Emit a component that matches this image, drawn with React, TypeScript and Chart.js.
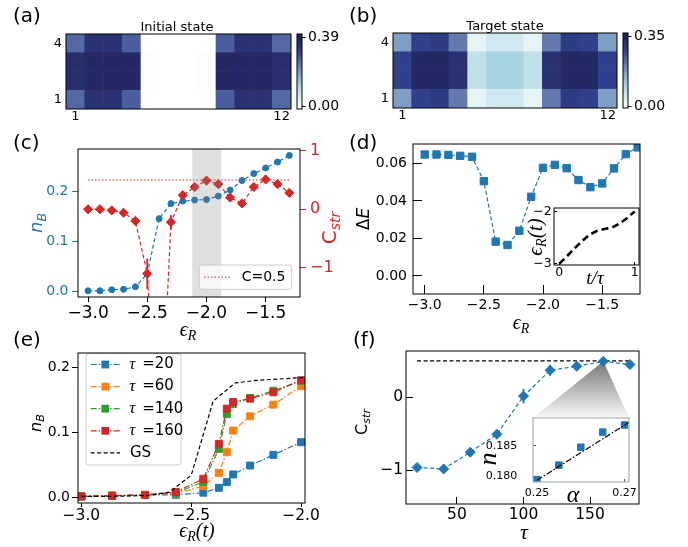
import React, { useEffect, useRef } from 'react';
import { Chart, registerables } from 'chart.js';

Chart.register(...registerables);

const W = 688;
const H = 547;
const SANS = "'DejaVu Sans', sans-serif";
const SERIF = "'Liberation Serif', 'DejaVu Serif', serif";
const BLUE = '#1f77b4';
const RED = '#d62728';
const ORANGE = '#ff7f0e';
const GREEN = '#2ca02c';

// ---------- (a), (b) heat maps: sites 1..12, rows 1..4 ----------
const sites = ['1', '2', '3', '4', '5', '6', '7', '8', '9', '10', '11', '12'];
const rowTicks = [0.5, 3.5];
const rowTickLabels = ['1', '4'];
const initialRow1 = [0.258, 0.351, 0.351, 0.273, 0.0, 0.0, 0.0, 0.0, 0.273, 0.351, 0.351, 0.258];
const initialRow2 = [0.363, 0.378, 0.378, 0.378, 0.004, 0.0, 0.0, 0.004, 0.378, 0.378, 0.378, 0.363];
const initialRow3 = [0.363, 0.378, 0.378, 0.378, 0.004, 0.0, 0.0, 0.004, 0.378, 0.378, 0.378, 0.363];
const initialRow4 = [0.258, 0.351, 0.351, 0.273, 0.0, 0.0, 0.0, 0.0, 0.273, 0.351, 0.351, 0.258];
const targetRow1 = [0.168, 0.28, 0.29, 0.21, 0.03, 0.057, 0.057, 0.03, 0.21, 0.29, 0.28, 0.168];
const targetRow2 = [0.28, 0.34, 0.34, 0.315, 0.076, 0.105, 0.105, 0.076, 0.315, 0.34, 0.34, 0.28];
const targetRow3 = [0.28, 0.34, 0.34, 0.315, 0.076, 0.105, 0.105, 0.076, 0.315, 0.34, 0.34, 0.28];
const targetRow4 = [0.168, 0.28, 0.29, 0.21, 0.03, 0.057, 0.057, 0.03, 0.21, 0.29, 0.28, 0.168];
const initialMax = 0.39;
const targetMax = 0.35;
const initialBarRange = [-0.015, 0.409];
const targetBarRange = [-0.008, 0.367];
const cmapStops: [number, number[]][] = [
  [0.0, [255, 255, 255]],
  [0.3, [168, 212, 226]],
  [0.6, [100, 122, 175]],
  [0.8, [48, 64, 140]],
  [1.0, [36, 36, 92]],
];

// ---------- (c) ----------
const epsC = [-3.0, -2.9, -2.8, -2.7, -2.6, -2.5, -2.4, -2.3, -2.2, -2.1, -2.0, -1.9, -1.8, -1.7, -1.6, -1.5, -1.4, -1.3];
const nBC = [0.001, 0.001, 0.003, 0.004, 0.009, 0.035, 0.145, 0.175, 0.18, 0.182, 0.183, 0.19, 0.202, 0.221, 0.235, 0.246, 0.258, 0.271];
const cStrC = [0.0, 0.0, -0.02, -0.06, -0.2, -1.1, -4.5, -0.22, 0.24, 0.38, 0.49, 0.43, 0.2, 0.1, 0.38, 0.51, 0.43, 0.28];
const cStrErrC = [0, 0, 0, 0, 0, 0.26, 0, 0.12, 0, 0, 0, 0, 0, 0, 0, 0, 0, 0];
const refC = 0.5;
const refLabelC = 'C=0.5';
const bandC = [-2.12, -1.875];

// ---------- (d) ----------
const epsD = [-3.0, -2.9, -2.8, -2.7, -2.6, -2.5, -2.4, -2.3, -2.2, -2.1, -2.0, -1.9, -1.8, -1.7, -1.6, -1.5, -1.4, -1.3, -1.2];
const dE = [0.0647, 0.0647, 0.0645, 0.064, 0.0635, 0.0505, 0.0183, 0.0165, 0.0241, 0.0422, 0.0576, 0.0592, 0.0574, 0.0511, 0.0473, 0.0493, 0.0573, 0.0649, 0.0685];
const tInset = [0, 0.1, 0.2, 0.3, 0.4, 0.5, 0.6, 0.7, 0.8, 0.9, 1.0];
const epsInset = [-3.0, -2.86, -2.71, -2.57, -2.445, -2.374, -2.338, -2.309, -2.232, -2.126, -2.0];

// ---------- (e) ----------
const epsE = [-3.0, -2.86, -2.71, -2.57, -2.445, -2.374, -2.338, -2.309, -2.232, -2.126, -2.0];
const tauLabels = ['20', '60', '140', '160'];
const nTau20 = [0.0015, 0.0026, 0.0036, 0.004, 0.0072, 0.0148, 0.0235, 0.0353, 0.049, 0.0654, 0.0849];
const nTau60 = [0.0015, 0.0026, 0.0036, 0.006, 0.0174, 0.0378, 0.0695, 0.1028, 0.1247, 0.1426, 0.1708];
const nTau140 = [0.0015, 0.0026, 0.0038, 0.007, 0.024, 0.0746, 0.128, 0.1437, 0.153, 0.164, 0.1794];
const nTau160 = [0.0015, 0.0026, 0.004, 0.0082, 0.0286, 0.0823, 0.1365, 0.1467, 0.1518, 0.1616, 0.18];
const epsGS = [-3.0, -2.9, -2.8, -2.7, -2.6, -2.5, -2.4, -2.3, -2.2, -2.1, -2.0, -1.9];
const nGS = [0.0015, 0.0015, 0.002, 0.003, 0.008, 0.034, 0.148, 0.176, 0.18, 0.182, 0.184, 0.19];
const gsLabel = 'GS';

// ---------- (f) ----------
const tauF = [20, 40, 60, 80, 100, 120, 140, 160, 180];
const cStrF = [-0.96, -0.98, -0.75, -0.505, 0.018, 0.372, 0.427, 0.495, 0.45];
const cStrErrF = [0.02, 0.06, 0.03, 0.03, 0.1, 0.075, 0.03, 0.02, 0.02];
const refF = 0.5;
const zoomIndexF = 7;
const alphaInset = [0.25, 0.255, 0.26, 0.265, 0.27];
const nInset = [0.17945, 0.18183, 0.18478, 0.18728, 0.18845];
const alphaFit = [0.25, 0.271];
const nFit = [0.17933, 0.18888];

// ---------- layout boxes (page pixels) ----------
type Box = { l: number; t: number; r: number; b: number };
const BOX_A: Box = { l: 66, t: 34, r: 291, b: 109 };
const CBAR_A: Box = { l: 297, t: 34, r: 302, b: 109 };
const BOX_B: Box = { l: 393, t: 33, r: 617, b: 108 };
const CBAR_B: Box = { l: 623, t: 33, r: 628, b: 108 };
const BOX_C: Box = { l: 78, t: 149, r: 300, b: 297 };
const BOX_D: Box = { l: 413, t: 144, r: 640, b: 294 };
const INSET_D: Box = { l: 554, t: 208, r: 639, b: 265 };
const BOX_E: Box = { l: 78, t: 353, r: 305, b: 503 };
const BOX_F: Box = { l: 406, t: 351, r: 639, b: 504 };
const INSET_F: Box = { l: 533, t: 418, r: 629, b: 482 };

const AXW = 60;
const AXH = 40;
const DASH = [4, 2.5];
const DASHDOT = [6, 2, 1.5, 2];
const DOT = [1.5, 2];

const minus = (s: string) => s.replace('-', '\u2212');
const fmt = (d: number) => (v: number) => minus(Number(v).toFixed(d));
const pts = (xs: number[], ys: number[]) => xs.map((x, i) => ({ x, y: ys[i] }));

function cmap(t: number): string {
  const u = Math.max(0, Math.min(1, t));
  for (let i = 1; i < cmapStops.length; i++) {
    const [t1, c1] = cmapStops[i];
    const [t0, c0] = cmapStops[i - 1];
    if (u <= t1) {
      const f = (u - t0) / (t1 - t0);
      const c = c0.map((v, k) => Math.round(v + (c1[k] - v) * f));
      return `rgb(${c[0]},${c[1]},${c[2]})`;
    }
  }
  const c = cmapStops[cmapStops.length - 1][1];
  return `rgb(${c[0]},${c[1]},${c[2]})`;
}

function padFor(box: Box, left: boolean, right: boolean, bottom: boolean) {
  return {
    left: box.l - (left ? AXW : 0),
    right: W - box.r - (right ? AXW : 0),
    top: box.t,
    bottom: H - box.b - (bottom ? AXH : 0),
  };
}

function baseOptions(box: Box, left: boolean, right: boolean, bottom: boolean) {
  return {
    responsive: false,
    animation: false,
    events: [],
    layout: { padding: padFor(box, left, right, bottom), autoPadding: false },
    plugins: { legend: { display: false }, tooltip: { enabled: false }, title: { display: false } },
  };
}

type Ax = {
  pos: 'left' | 'right' | 'bottom';
  min: number;
  max: number;
  ticks: number[];
  fmt: (v: number) => string;
  size: number;
  color?: string;
  tickColor?: string;
  tl: number;
  pad: number;
};

function linAxis(a: Ax) {
  return {
    type: 'linear',
    position: a.pos,
    min: a.min,
    max: a.max,
    afterBuildTicks: (s: any) => {
      s.ticks = a.ticks.map((v) => ({ value: v }));
    },
    afterFit: (s: any) => {
      if (a.pos === 'bottom') s.height = AXH;
      else s.width = AXW;
    },
    ticks: {
      callback: (v: any) => a.fmt(Number(v)),
      font: { family: SANS, size: a.size },
      color: a.color || '#000',
      padding: a.pad,
      autoSkip: false,
      maxRotation: 0,
      minRotation: 0,
    },
    grid: {
      drawOnChartArea: false,
      drawTicks: true,
      tickLength: a.tl,
      color: a.tickColor || a.color || '#000',
      lineWidth: 1,
    },
    border: { display: false },
  };
}

function lineDs(xs: number[], ys: number[], o: any) {
  return {
    data: pts(xs, ys),
    borderColor: o.color,
    backgroundColor: o.color,
    borderWidth: o.lw ?? 1.2,
    borderDash: o.dash ?? [],
    pointStyle: o.marker ?? 'circle',
    pointRadius: o.r ?? 0,
    pointHoverRadius: o.r ?? 0,
    pointBackgroundColor: o.color,
    pointBorderColor: o.color,
    pointBorderWidth: 1,
    tension: 0,
    fill: false,
    showLine: o.showLine ?? true,
    yAxisID: o.yAxisID ?? 'y',
    order: o.order ?? 0,
  };
}

function framePlugin(color: string, lw: number, bg?: string) {
  return {
    id: 'frame',
    beforeDraw(chart: any) {
      if (!bg) return;
      const { ctx, chartArea: a } = chart;
      ctx.save();
      ctx.fillStyle = bg;
      ctx.fillRect(a.left, a.top, a.right - a.left, a.bottom - a.top);
      ctx.restore();
    },
    afterDraw(chart: any) {
      const { ctx, chartArea: a } = chart;
      ctx.save();
      ctx.strokeStyle = color;
      ctx.lineWidth = lw;
      ctx.strokeRect(a.left, a.top, a.right - a.left, a.bottom - a.top);
      ctx.restore();
    },
  };
}

function errPlugin(xs: number[], ys: number[], errs: number[], color: string, yId: string, lw: number) {
  return {
    id: 'errbars',
    beforeDatasetsDraw(chart: any) {
      const { ctx, chartArea: a } = chart;
      const xs_ = chart.scales.x;
      const ys_ = chart.scales[yId];
      ctx.save();
      ctx.beginPath();
      ctx.rect(a.left, a.top, a.right - a.left, a.bottom - a.top);
      ctx.clip();
      ctx.strokeStyle = color;
      ctx.lineWidth = lw;
      xs.forEach((x, i) => {
        if (!errs[i]) return;
        const px = xs_.getPixelForValue(x);
        ctx.beginPath();
        ctx.moveTo(px, ys_.getPixelForValue(ys[i] - errs[i]));
        ctx.lineTo(px, ys_.getPixelForValue(ys[i] + errs[i]));
        ctx.stroke();
      });
      ctx.restore();
    },
  };
}

function roundRectPath(ctx: CanvasRenderingContext2D, x: number, y: number, w: number, h: number, r: number) {
  ctx.beginPath();
  ctx.moveTo(x + r, y);
  ctx.arcTo(x + w, y, x + w, y + h, r);
  ctx.arcTo(x + w, y + h, x, y + h, r);
  ctx.arcTo(x, y + h, x, y, r);
  ctx.arcTo(x, y, x + w, y, r);
  ctx.closePath();
}

function legendBox(ctx: CanvasRenderingContext2D, x: number, y: number, w: number, h: number) {
  roundRectPath(ctx, x, y, w, h, 3);
  ctx.fillStyle = 'rgba(255,255,255,0.8)';
  ctx.fill();
  ctx.strokeStyle = '#cccccc';
  ctx.lineWidth = 1;
  ctx.stroke();
}

// ---------- configs ----------
function heatConfig(rows: number[][], vtop: number, box: Box) {
  return {
    type: 'bar',
    data: {
      labels: sites,
      datasets: rows.map((row) => ({
        data: row.map(() => 1),
        backgroundColor: row.map((v) => cmap(v / vtop)),
        borderWidth: 0,
        barPercentage: 1,
        categoryPercentage: 1,
      })),
    },
    options: {
      ...baseOptions(box, true, false, true),
      scales: {
        x: {
          type: 'category',
          stacked: true,
          afterFit: (s: any) => {
            s.height = AXH;
          },
          ticks: {
            autoSkip: false,
            maxRotation: 0,
            minRotation: 0,
            padding: 0,
            font: { family: SANS, size: 13 },
            color: '#000',
            callback: (_v: any, i: number) => (i === 0 || i === sites.length - 1 ? sites[i] : ''),
          },
          grid: { display: false, drawTicks: false, tickLength: 0 },
          border: { display: false },
        },
        y: {
          type: 'linear',
          stacked: true,
          min: 0,
          max: 4,
          afterBuildTicks: (s: any) => {
            s.ticks = rowTicks.map((v) => ({ value: v }));
          },
          afterFit: (s: any) => {
            s.width = AXW;
          },
          ticks: {
            padding: 4,
            font: { family: SANS, size: 13 },
            color: '#000',
            callback: (v: any) => rowTickLabels[rowTicks.indexOf(Number(v))] ?? '',
          },
          grid: { display: false, drawTicks: false, tickLength: 0 },
          border: { display: false },
        },
      },
    },
    plugins: [framePlugin('#000', 1)],
  };
}

function cbarConfig(range: number[], vtop: number, box: Box) {
  return {
    type: 'bar',
    data: {
      labels: [''],
      datasets: [
        {
          data: [range],
          backgroundColor: (c: any) => {
            const ch = c.chart;
            if (!ch.chartArea) return 'rgba(0,0,0,0)';
            const ys = ch.scales.y;
            const g = ch.ctx.createLinearGradient(0, ys.getPixelForValue(0), 0, ys.getPixelForValue(vtop));
            cmapStops.forEach(([t]) => g.addColorStop(t, cmap(t)));
            return g;
          },
          borderWidth: 0,
          barPercentage: 1,
          categoryPercentage: 1,
        },
      ],
    },
    options: {
      ...baseOptions(box, false, true, false),
      scales: {
        x: { display: false },
        y: linAxis({ pos: 'right', min: range[0], max: range[1], ticks: [0, vtop], fmt: fmt(2), size: 14, tl: 3.5, pad: 2.5 }),
      },
    },
    plugins: [framePlugin('#000', 1)],
  };
}

function configC() {
  return {
    type: 'line',
    data: {
      datasets: [
        lineDs(epsC, cStrC, { color: RED, dash: DASH, marker: 'rectRot', r: 4.6, yAxisID: 'y1', order: 0 }),
        lineDs(epsC, nBC, { color: BLUE, dash: DASH, marker: 'circle', r: 3, yAxisID: 'y', order: 1 }),
        lineDs([epsC[0], epsC[epsC.length - 1]], [refC, refC], { color: RED, dash: DOT, lw: 1, yAxisID: 'y1', order: 2 }),
      ],
    },
    options: {
      ...baseOptions(BOX_C, true, true, true),
      scales: {
        x: linAxis({ pos: 'bottom', min: -3.085, max: -1.21, ticks: [-3, -2.5, -2, -1.5], fmt: fmt(1), size: 17, tl: 5, pad: 1 }),
        y: linAxis({ pos: 'left', min: -0.0114, max: 0.284, ticks: [0, 0.1, 0.2], fmt: fmt(1), size: 14, color: BLUE, tl: 6, pad: 3.5 }),
        y1: linAxis({ pos: 'right', min: -1.5, max: 1.03, ticks: [-1, 0, 1], fmt: fmt(0), size: 16, color: RED, tl: 6, pad: 4 }),
      },
    },
    plugins: [
      errPlugin(epsC, cStrC, cStrErrC, RED, 'y1', 1.8),
      {
        id: 'band',
        afterDatasetsDraw(chart: any) {
          const { ctx, chartArea: a, scales } = chart;
          const x0 = scales.x.getPixelForValue(bandC[0]);
          const x1 = scales.x.getPixelForValue(bandC[1]);
          ctx.save();
          ctx.fillStyle = 'rgba(128,128,128,0.25)';
          ctx.fillRect(x0, a.top, x1 - x0, a.bottom - a.top);
          ctx.restore();
        },
      },
      {
        id: 'legendC',
        afterDraw(chart: any) {
          const { ctx, chartArea: a } = chart;
          const w = 92.4;
          const h = 24.3;
          const x = a.right - 8.3 - w;
          const y = a.bottom - 7.7 - h;
          ctx.save();
          legendBox(ctx, x, y, w, h);
          const cy = y + h / 2;
          ctx.setLineDash(DOT);
          ctx.strokeStyle = RED;
          ctx.lineWidth = 1;
          ctx.beginPath();
          ctx.moveTo(x + 4.7, cy);
          ctx.lineTo(x + 30.7, cy);
          ctx.stroke();
          ctx.setLineDash([]);
          ctx.fillStyle = '#000';
          ctx.font = `14px ${SANS}`;
          ctx.textBaseline = 'middle';
          ctx.textAlign = 'left';
          ctx.fillText(refLabelC, x + 42.4, cy);
          ctx.restore();
        },
      },
      framePlugin('#000', 1),
    ],
  };
}

function configD() {
  return {
    type: 'line',
    data: {
      datasets: [lineDs(epsD, dE, { color: BLUE, dash: DASH, marker: 'rect', r: 5.2 })],
    },
    options: {
      ...baseOptions(BOX_D, true, false, true),
      scales: {
        x: linAxis({ pos: 'bottom', min: -3.099, max: -1.18, ticks: [-3, -2.5, -2, -1.5], fmt: fmt(1), size: 14, tl: -9, pad: 12.3 }),
        y: linAxis({ pos: 'left', min: -0.0096, max: 0.0703, ticks: [0, 0.02, 0.04, 0.06], fmt: fmt(2), size: 14, tl: -9, pad: 15 }),
      },
    },
    plugins: [framePlugin('#000', 1)],
  };
}

function configInsetD() {
  return {
    type: 'line',
    data: {
      datasets: [lineDs(tInset, epsInset, { color: '#000', dash: [7, 4], lw: 2.6 })],
    },
    options: {
      ...baseOptions(INSET_D, true, false, true),
      scales: {
        x: linAxis({ pos: 'bottom', min: -0.07, max: 1.057, ticks: [0, 1], fmt: fmt(0), size: 12.5, tl: -3, pad: 3.6 }),
        y: linAxis({ pos: 'left', min: -3.025, max: -1.935, ticks: [-3, -2], fmt: fmt(0), size: 12.5, tl: -3, pad: 5.3 }),
      },
    },
    plugins: [framePlugin('#000', 1, '#fff')],
  };
}

const tauSeries = [nTau20, nTau60, nTau140, nTau160];
const tauColors = [BLUE, ORANGE, GREEN, RED];

function configE() {
  return {
    type: 'line',
    data: {
      datasets: [
        ...tauSeries.map((ys, i) =>
          lineDs(epsE, ys, { color: tauColors[i], dash: DASHDOT, marker: 'rect', r: 4.9, order: 4 - i })
        ),
        lineDs(epsGS, nGS, { color: '#000', dash: DASH, lw: 1.2, order: 0 }),
      ],
    },
    options: {
      ...baseOptions(BOX_E, true, false, true),
      scales: {
        x: linAxis({ pos: 'bottom', min: -3.0155, max: -1.982, ticks: [-3, -2.5, -2], fmt: fmt(1), size: 15.5, tl: 4, pad: 0 }),
        y: linAxis({ pos: 'left', min: -0.0086, max: 0.222, ticks: [0, 0.1, 0.2], fmt: fmt(1), size: 14, tl: 6, pad: 2 }),
      },
    },
    plugins: [
      {
        id: 'legendE',
        afterDraw(chart: any) {
          const { ctx, chartArea: a } = chart;
          const x = a.left + 8;
          const y = a.top + 0.5;
          const w = 95;
          const h = 111.5;
          ctx.save();
          legendBox(ctx, x, y, w, h);
          const rows = tauLabels.length + 1;
          for (let i = 0; i < rows; i++) {
            const cy = y + 11 + i * 22.1;
            const isGS = i === tauLabels.length;
            const color = isGS ? '#000' : tauColors[i];
            ctx.setLineDash(isGS ? DASH : DASHDOT);
            ctx.strokeStyle = color;
            ctx.lineWidth = 1.2;
            ctx.beginPath();
            ctx.moveTo(x + 4.7, cy);
            ctx.lineTo(x + 34, cy);
            ctx.stroke();
            ctx.setLineDash([]);
            if (!isGS) {
              ctx.fillStyle = color;
              ctx.fillRect(x + 19.3 - 3.9, cy - 3.9, 7.8, 7.8);
            }
            ctx.fillStyle = '#000';
            ctx.textBaseline = 'middle';
            ctx.textAlign = 'left';
            if (isGS) {
              ctx.font = `15px ${SANS}`;
              ctx.fillText(gsLabel, x + 44, cy);
            } else {
              ctx.font = `italic 17px ${SERIF}`;
              ctx.fillText('\u03c4', x + 43.3, cy);
              const tw = ctx.measureText('\u03c4').width;
              ctx.font = `15px ${SANS}`;
              ctx.fillText(' =' + tauLabels[i], x + 43.3 + tw + 2, cy);
            }
          }
          ctx.restore();
        },
      },
      framePlugin('#000', 1),
    ],
  };
}

function configF() {
  return {
    type: 'line',
    data: {
      datasets: [
        lineDs(tauF, cStrF, { color: BLUE, dash: DASH, marker: 'rectRot', r: 5, order: 0 }),
        lineDs([tauF[0], tauF[tauF.length - 1]], [refF, refF], { color: '#000', dash: DASH, lw: 1.2, order: 1 }),
      ],
    },
    options: {
      ...baseOptions(BOX_F, true, false, true),
      scales: {
        x: linAxis({ pos: 'bottom', min: 11.7, max: 186.8, ticks: [50, 100, 150], fmt: fmt(0), size: 15.5, tl: -7, pad: 8.6 }),
        y: linAxis({ pos: 'left', min: -1.46, max: 0.636, ticks: [-1, 0], fmt: fmt(0), size: 15.5, tl: -7, pad: 10 }),
      },
    },
    plugins: [
      {
        id: 'wedge',
        beforeDatasetsDraw(chart: any) {
          const { ctx, scales } = chart;
          const ax = scales.x.getPixelForValue(tauF[zoomIndexF]);
          const ay = scales.y.getPixelForValue(cStrF[zoomIndexF]);
          const g = ctx.createLinearGradient(0, ay, 0, INSET_F.t);
          g.addColorStop(0, 'rgb(118,118,118)');
          g.addColorStop(1, 'rgb(250,250,250)');
          ctx.save();
          ctx.fillStyle = g;
          ctx.beginPath();
          ctx.moveTo(ax, ay);
          ctx.lineTo(INSET_F.r, INSET_F.t);
          ctx.lineTo(INSET_F.l, INSET_F.t);
          ctx.closePath();
          ctx.fill();
          ctx.restore();
        },
      },
      errPlugin(tauF, cStrF, cStrErrF, BLUE, 'y', 1.8),
      framePlugin('#000', 1),
    ],
  };
}

function configInsetF() {
  return {
    type: 'line',
    data: {
      datasets: [
        lineDs(alphaFit, nFit, { color: '#000', dash: DASHDOT, lw: 1.2, order: 0 }),
        lineDs(alphaInset, nInset, { color: BLUE, marker: 'rect', r: 4.6, showLine: false, order: 1 }),
      ],
    },
    options: {
      ...baseOptions(INSET_F, true, false, true),
      scales: {
        x: linAxis({ pos: 'bottom', min: 0.2491, max: 0.271, ticks: [0.25, 0.27], fmt: fmt(2), size: 11, tl: -3, pad: 7.6, tickColor: '#555' }),
        y: linAxis({ pos: 'left', min: 0.17905, max: 0.1896, ticks: [0.18, 0.185], fmt: fmt(3), size: 11, tl: -3, pad: 18.7, tickColor: '#555' }),
      },
    },
    plugins: [framePlugin('#b0b0b0', 1.2, '#fff')],
  };
}

const makers: (() => any)[] = [
  () => heatConfig([initialRow1, initialRow2, initialRow3, initialRow4], initialMax, BOX_A),
  () => cbarConfig(initialBarRange, initialMax, CBAR_A),
  () => heatConfig([targetRow1, targetRow2, targetRow3, targetRow4], targetMax, BOX_B),
  () => cbarConfig(targetBarRange, targetMax, CBAR_B),
  configC,
  configD,
  configInsetD,
  configE,
  configF,
  configInsetF,
];

function ChartCanvas({ make }: { make: () => any }) {
  const ref = useRef<HTMLCanvasElement>(null);
  useEffect(() => {
    const chart = new Chart(ref.current as HTMLCanvasElement, make());
    return () => chart.destroy();
  }, []);
  return (
    <canvas
      ref={ref}
      width={W}
      height={H}
      style={{ position: 'absolute', left: 0, top: 0, width: W, height: H }}
    />
  );
}

function T(props: {
  x: number;
  y: number;
  rot?: number;
  size: number;
  color?: string;
  family?: string;
  italic?: boolean;
  left?: boolean;
  children: any;
}) {
  const { x, y, rot = 0, size, color = '#000', family = SANS, italic = false, left = false, children } = props;
  return (
    <div
      style={{
        position: 'absolute',
        left: x,
        top: y,
        transform: `${left ? 'translate(0,-50%)' : 'translate(-50%,-50%)'} rotate(${rot}deg)`,
        fontSize: size,
        color,
        fontFamily: family,
        fontStyle: italic ? 'italic' : 'normal',
        lineHeight: 1,
        whiteSpace: 'nowrap',
      }}
    >
      {children}
    </div>
  );
}

const Sub = ({ children, italic = true }: { children: any; italic?: boolean }) => (
  <span style={{ fontSize: '0.7em', position: 'relative', top: '0.3em', fontStyle: italic ? 'italic' : 'normal' }}>{children}</span>
);

export default function App() {
  return (
    <div style={{ position: 'absolute', left: 0, top: 0, width: W, height: H, background: '#fff', overflow: 'hidden' }}>
      {makers.map((m, i) => (
        <ChartCanvas key={i} make={m} />
      ))}
      <T x={13} y={15} size={20} left>(a)</T>
      <T x={349} y={15} size={20} left>(b)</T>
      <T x={13} y={142} size={20} left>(c)</T>
      <T x={349} y={142} size={20} left>(d)</T>
      <T x={13} y={339} size={20} left>(e)</T>
      <T x={353} y={339} size={20} left>(f)</T>
      <T x={177} y={25.5} size={13}>Initial state</T>
      <T x={505} y={25} size={13}>Target state</T>

      <T x={36} y={223} rot={-90} size={18} color={BLUE} italic>
        n<Sub>B</Sub>
      </T>
      <T x={329} y={228} rot={-90} size={20} color={RED}>
        C<Sub>str</Sub>
      </T>
      <T x={188} y={329} size={20} family={SERIF} italic>
        {'\u03f5'}<Sub>R</Sub>
      </T>

      <T x={363} y={219} rot={-90} size={17}>
        {'\u0394'}<i>E</i>
      </T>
      <T x={521} y={322} size={20} family={SERIF} italic>
        {'\u03f5'}<Sub>R</Sub>
      </T>
      <T x={535} y={237} rot={-90} size={21} family={SERIF} italic>
        {'\u03f5'}<Sub>R</Sub>(t)
      </T>
      <T x={595} y={277} size={19} family={SERIF} italic>
        t/{'\u03c4'}
      </T>

      <T x={36} y={423} rot={-90} size={16} italic>
        n<Sub>B</Sub>
      </T>
      <T x={197} y={530} size={20} family={SERIF} italic>
        {'\u03f5'}<Sub>R</Sub>(t)
      </T>

      <T x={362} y={422} rot={-90} size={16}>
        C<Sub>str</Sub>
      </T>
      <T x={524} y={532} size={22} family={SERIF} italic>
        {'\u03c4'}
      </T>
      <T x={488} y={459} rot={-90} size={26} family={SERIF} italic>
        n
      </T>
      <T x={573} y={494} size={24} family={SERIF} italic>
        {'\u03b1'}
      </T>
    </div>
  );
}
